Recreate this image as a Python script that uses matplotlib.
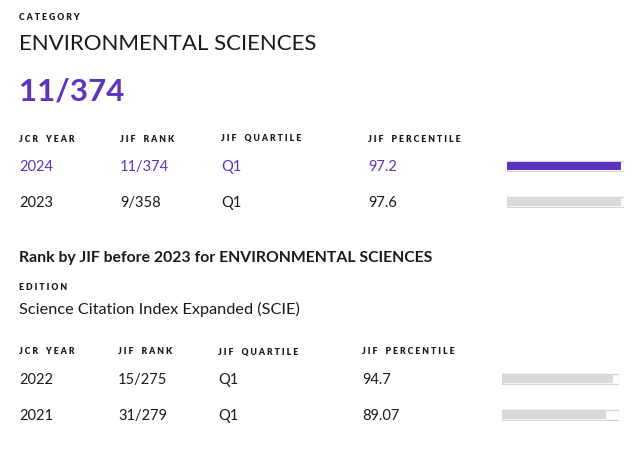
import matplotlib
matplotlib.use("Agg")
import matplotlib.pyplot as plt

category = "ENVIRONMENTAL SCIENCES"
headline_rank = "11/374"
headers = ["JCR YEAR", "JIF RANK", "JIF QUARTILE", "JIF PERCENTILE"]

years_new = ["2024", "2023"]
ranks_new = ["11/374", "9/358"]
quart_new = ["Q1", "Q1"]
pct_new = [97.2, 97.6]

edition = "Science Citation Index Expanded (SCIE)"
years_old = ["2022", "2021"]
ranks_old = ["15/275", "31/279"]
quart_old = ["Q1", "Q1"]
pct_old = [94.7, 89.07]

PURPLE = "#5e33bf"
DARK = "#1a1a1a"
W, H = 639, 450
plt.rcParams['font.family'] = ['Lato', 'DejaVu Sans']

fig = plt.figure(figsize=(W / 100, H / 100), dpi=100)
ax = fig.add_axes([0, 0, 1, 1])
ax.set_xlim(0, W)
ax.set_ylim(H, 0)
ax.axis("off")


def t(x, y, s, size, color=DARK, weight="normal"):
    ax.text(x, y, s, fontsize=size, color=color, weight=weight, va="center", ha="left")


def hdr(x, y, s):
    ax.text(x, y, s, fontsize=6.2, color=DARK, weight="heavy", va="center", ha="left")


def bar(x0, y, value, color):
    bx = fig.add_axes([x0 / W, 1 - (y + 6) / H, 117 / W, 12 / H])
    bx.set_xlim(0, 100)
    bx.set_ylim(-0.6, 0.6)
    bx.barh([0], [100], height=1.0, color="white", edgecolor="#d6d6d6", linewidth=1.0)
    bx.barh([0], [value], height=0.85, color=color)
    bx.axis("off")


def spaced(s):
    return " ".join(s).replace("   ", "    ")


hdr(19, 18, spaced("CATEGORY"))
t(19, 44, category, 16)
ax.text(19, 91, headline_rank, fontsize=22.5, color=PURPLE, weight="bold", va="center")

cols1 = [19, 120, 221, 368]
for x, h in zip(cols1, headers):
    hdr(x, 139, spaced(h))
for i in range(2):
    y = 167 + 36 * i
    c = PURPLE if i == 0 else DARK
    for x, v in zip(cols1, [years_new[i], ranks_new[i], quart_new[i], f"{pct_new[i]}"]):
        t(x, y, v, 10.5, c)
    bar(507, y - 1, pct_new[i], PURPLE if i == 0 else "#d9d9d9")

ax.text(19, 258, "Rank by JIF before 2023 for " + category, fontsize=11.3,
        weight="bold", color=DARK, va="center")
hdr(19, 287, spaced("EDITION"))
t(19, 309, edition, 11.7)

cols2 = [19, 118, 218, 362]
for x, h in zip(cols2, headers):
    hdr(x, 352, spaced(h))
for i in range(2):
    y = 380 + 36 * i
    for x, v in zip(cols2, [years_old[i], ranks_old[i], quart_old[i], f"{pct_old[i]}"]):
        t(x, y, v, 10.5)
    bar(502, y - 1, pct_old[i], "#d9d9d9")

fig.savefig("out.png", dpi=100)
